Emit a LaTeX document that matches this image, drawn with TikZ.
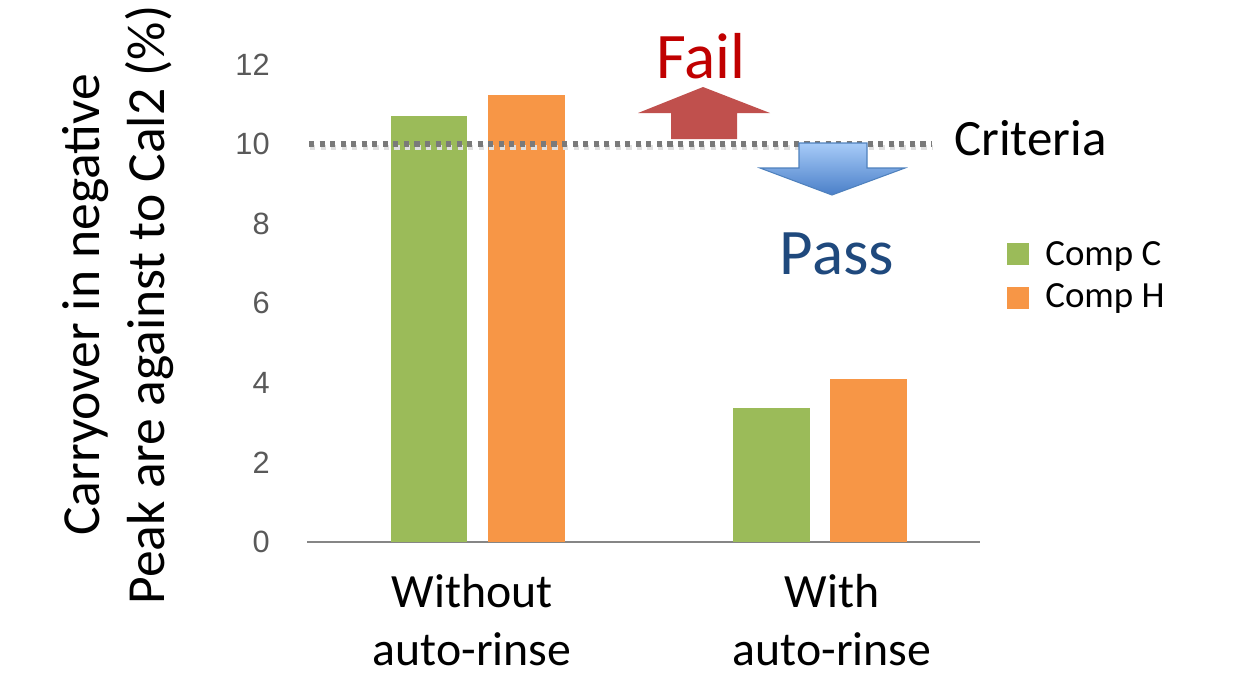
\documentclass[tikz,border=0pt]{standalone}
\usepackage{fontspec}
\setmainfont{Carlito}
\newfontfamily\tickfont{Liberation Sans}
\usetikzlibrary{positioning}
\definecolor{barC}{HTML}{9BBB59}
\definecolor{barH}{HTML}{F79646}
\definecolor{failred}{HTML}{C0504D}
\definecolor{failtxt}{HTML}{C00000}
\definecolor{passtxt}{HTML}{1F497D}
\definecolor{passtop}{HTML}{A7CBF8}
\definecolor{passbot}{HTML}{4A7FC8}
\definecolor{passedge}{HTML}{4F81BD}
\definecolor{ticktxt}{HTML}{595959}
\tikzset{
  tick label/.style={font=\tickfont\fontsize{17.5}{19}\selectfont, text=ticktxt, anchor=east, inner sep=0pt},
  cat label/.style={font=\fontsize{27.2}{33}\selectfont, align=center, anchor=north},
  legend label/.style={font=\fontsize{21}{23}\selectfont, anchor=west, inner sep=0pt},
}
\begin{document}
\begin{tikzpicture}[x=0.02cm,y=-0.02cm]
% =============================================
% - frame.
\useasboundingbox (0,0) rectangle (1244,677);
% - axis and tick labels.
\draw [gray!95, line width=1.2pt] (307,542) -- (980,542);
\foreach \v [evaluate=\v as \py using 542-39.8*\v] in {0,2,...,12}
  \node[tick label] (t\v) at (270,\py) {\v};
% - bars.
\fill [barC] (391,542) rectangle (467,116);
\fill [barH] (488,542) rectangle (565,95);
\fill [barC] (733,542) rectangle (810,408);
\fill [barH] (830,542) rectangle (907,379);
% - criteria line (with a soft shadow).
\draw [black!12, line width=3pt, dash pattern=on 3pt off 3pt] (310,147.5) -- (933,147.5);
\draw [black!52, line width=2.9pt, dash pattern=on 2.9pt off 3.1pt] (309,144) -- (932,144);
\node[font=\fontsize{29}{32}\selectfont, anchor=west] (crit) at (948,138) {Criteria};
% - fail arrow.
\fill [failred] (703,87) -- (770,113) -- (737,113) -- (737,139) -- (671,139) -- (671,113) -- (638,113) -- cycle;
\node[font=\fontsize{37}{40}\selectfont, text=failtxt] (fail) at (701,56) {Fail};
% - pass arrow.
\shade [top color=passtop, bottom color=passbot, draw=passedge, line width=0.6pt]
  (799,143) -- (867,143) -- (867,168) -- (905,168) -- (832,195) -- (760,168) -- (799,168) -- cycle;
\node[font=\fontsize{37}{40}\selectfont, text=passtxt] (pass) at (837,254) {Pass};
% - legend.
\fill [barC] (1007,243) rectangle (1029,265);
\node[legend label] (legC) at (1045,256) {Comp C};
\fill [barH] (1007,287) rectangle (1029,309);
\node[legend label] (legH) at (1045,298) {Comp H};
% - category labels.
\node[cat label] (catA) at (472,568) {Without\\auto-rinse};
\node[cat label] (catB) at (832,568) {With\\auto-rinse};
% - y label.
\node[font=\fontsize{30.5}{37}\selectfont, align=center, rotate=90] (ylab) at (118,305)
  {Carryover in negative\\Peak are against to Cal2 (\%)};
% =============================================
\end{tikzpicture}
\end{document}
